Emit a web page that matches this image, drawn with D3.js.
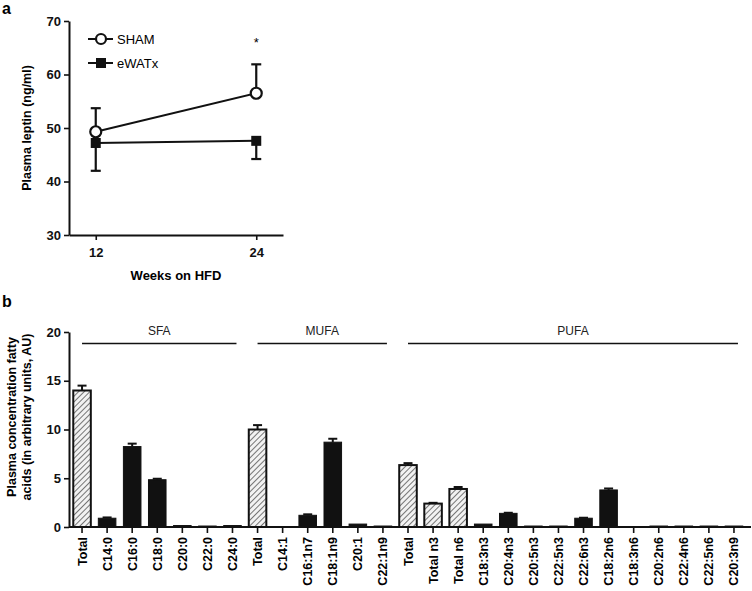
<!DOCTYPE html>
<html>
<head>
<meta charset="utf-8">
<script src="https://cdn.jsdelivr.net/npm/d3@7"></script>
<style>
    body { margin: 0; background: #fff; }
    svg { display: block; font-family: "Liberation Sans", Arial, sans-serif; }
</style>
</head>
<body>
<svg id="chart"></svg>
<script>
// Panel a: leptin
const weeks = [12, 24]
const shamMean = [49.3, 56.5]
const shamErr = [4.4, 5.4]
const ewatMean = [47.2, 47.6]
const ewatErr = [5.2, 3.4]

// Panel b: fatty acids
const faNames = ['Total', 'C14:0', 'C16:0', 'C18:0', 'C20:0', 'C22:0', 'C24:0',
    'Total', 'C14:1', 'C16:1n7', 'C18:1n9', 'C20:1', 'C22:1n9',
    'Total', 'Total n3', 'Total n6', 'C18:3n3', 'C20:4n3', 'C20:5n3', 'C22:5n3', 'C22:6n3',
    'C18:2n6', 'C18:3n6', 'C20:2n6', 'C22:4n6', 'C22:5n6', 'C20:3n9']
const faValues = [14.0, 0.9, 8.25, 4.85, 0.15, 0.1, 0.15,
    10.0, 0.05, 1.2, 8.7, 0.3, 0.1,
    6.35, 2.4, 3.9, 0.3, 1.4, 0.1, 0.1, 0.9,
    3.8, 0, 0.1, 0.1, 0.1, 0.1]
const faErr = [0.5, 0.08, 0.3, 0.1, 0.02, 0.02, 0.02,
    0.45, 0.02, 0.1, 0.35, 0.03, 0.02,
    0.2, 0.08, 0.2, 0.03, 0.06, 0.02, 0.02, 0.05,
    0.15, 0, 0.02, 0.02, 0.02, 0.02]
const faHatched = [true, false, false, false, false, false, false,
    true, false, false, false, false, false,
    true, true, true, false, false, false, false, false,
    false, false, false, false, false, false]
const groups = [
    {name: 'SFA', first: 0, last: 6},
    {name: 'MUFA', first: 7, last: 12},
    {name: 'PUFA', first: 13, last: 26}
]

const width = 752
const height = 591

const svg = d3.select('#chart')
    .attr('width', width)
    .attr('height', height)

const defs = svg.append('defs')
const pat = defs.append('pattern')
    .attr('id', 'hatch')
    .attr('patternUnits', 'userSpaceOnUse')
    .attr('width', 4)
    .attr('height', 4)
    .attr('patternTransform', 'rotate(45)')
pat.append('rect').attr('width', 4).attr('height', 4).attr('fill', '#f2f2f2')
pat.append('line')
    .attr('x1', 0).attr('y1', 0).attr('x2', 0).attr('y2', 4)
    .attr('stroke', '#555').attr('stroke-width', 1.6)

// ---------- panel a ----------
svg.append('text').text('a')
    .attr('x', 2).attr('y', 14)
    .style('font-size', '16px').style('font-weight', 'bold')

const xa = d3.scaleLinear().domain([10, 26]).range([69, 283])
const ya = d3.scaleLinear().domain([30, 70]).range([235, 21])

const ga = svg.append('g')

ga.append('g')
    .attr('transform', 'translate(69,0)')
    .call(d3.axisLeft(ya).tickValues([30, 40, 50, 60, 70]).tickSize(5).tickSizeOuter(0))
    .call(styleAxis)

ga.append('g')
    .attr('transform', 'translate(0,235)')
    .call(d3.axisBottom(xa).tickValues(weeks).tickSize(5).tickSizeOuter(0))
    .call(styleAxis)
    .call(g => g.selectAll('text').attr('dy', '1.1em'))

ga.append('text').text('Weeks on HFD')
    .attr('x', 176).attr('y', 280)
    .attr('text-anchor', 'middle')
    .style('font-size', '13px').style('font-weight', 'bold')

ga.append('text').text('Plasma leptin (ng/ml)')
    .attr('transform', 'translate(31,128) rotate(-90)')
    .attr('text-anchor', 'middle')
    .style('font-size', '12.5px').style('font-weight', 'bold')

const line = d3.line().x((d, i) => xa(weeks[i])).y(d => ya(d))

// error bars: SHAM goes up, eWATx goes down
function errBar(g, means, errs, dir) {
    means.forEach((m, i) => {
        const x = xa(weeks[i])
        const yEnd = ya(m + dir * errs[i])
        g.append('line')
            .attr('x1', x).attr('x2', x)
            .attr('y1', ya(m)).attr('y2', yEnd)
            .attr('stroke', '#111').attr('stroke-width', 2.2)
        g.append('line')
            .attr('x1', x - 5).attr('x2', x + 5)
            .attr('y1', yEnd).attr('y2', yEnd)
            .attr('stroke', '#111').attr('stroke-width', 2.2)
    })
}
errBar(ga, shamMean, shamErr, 1)
errBar(ga, ewatMean, ewatErr, -1)

ga.append('path').datum(ewatMean)
    .attr('d', line).attr('fill', 'none')
    .attr('stroke', '#111').attr('stroke-width', 2)
ga.append('path').datum(shamMean)
    .attr('d', line).attr('fill', 'none')
    .attr('stroke', '#111').attr('stroke-width', 2)

ga.selectAll('.sq').data(ewatMean).join('rect')
    .attr('x', (d, i) => xa(weeks[i]) - 5)
    .attr('y', d => ya(d) - 5)
    .attr('width', 10).attr('height', 10)
    .attr('fill', '#111')
ga.selectAll('.circ').data(shamMean).join('circle')
    .attr('cx', (d, i) => xa(weeks[i]))
    .attr('cy', d => ya(d))
    .attr('r', 5.5)
    .attr('fill', '#fff').attr('stroke', '#111').attr('stroke-width', 2.2)

ga.append('text').text('*')
    .attr('x', xa(24)).attr('y', ya(65.2))
    .attr('text-anchor', 'middle')
    .style('font-size', '13px')

// legend
const leg = ga.append('g')
leg.append('line').attr('x1', 88).attr('x2', 113).attr('y1', 39).attr('y2', 39)
    .attr('stroke', '#111').attr('stroke-width', 2)
leg.append('circle').attr('cx', 101).attr('cy', 39).attr('r', 5)
    .attr('fill', '#fff').attr('stroke', '#111').attr('stroke-width', 2.2)
leg.append('text').text('SHAM').attr('x', 117).attr('y', 44)
    .style('font-size', '13px')
leg.append('line').attr('x1', 88).attr('x2', 113).attr('y1', 63).attr('y2', 63)
    .attr('stroke', '#111').attr('stroke-width', 2)
leg.append('rect').attr('x', 96).attr('y', 58).attr('width', 10).attr('height', 10)
    .attr('fill', '#111')
leg.append('text').text('eWATx').attr('x', 117).attr('y', 68)
    .style('font-size', '13px')

// ---------- panel b ----------
svg.append('text').text('b')
    .attr('x', 2).attr('y', 307)
    .style('font-size', '16px').style('font-weight', 'bold')

const idx = faNames.map((d, i) => i)
const xb = d3.scaleBand().domain(idx).range([69.5, 746.5]).paddingInner(0.3).paddingOuter(0.15)
const yb = d3.scaleLinear().domain([0, 20]).range([527, 332])

const gb = svg.append('g')

gb.append('g')
    .attr('transform', 'translate(69,0)')
    .call(d3.axisLeft(yb).tickValues([0, 5, 10, 15, 20]).tickSize(5).tickSizeOuter(0))
    .call(styleAxis)

// bars
gb.selectAll('.bar').data(faValues).join('rect')
    .attr('x', (d, i) => xb(i))
    .attr('y', d => yb(d))
    .attr('width', xb.bandwidth())
    .attr('height', d => yb(0) - yb(d))
    .attr('fill', (d, i) => faHatched[i] ? 'url(#hatch)' : '#111')
    .attr('stroke', '#111')
    .attr('stroke-width', (d, i) => faHatched[i] ? 2 : 1)

// error bars
faValues.forEach((v, i) => {
    if (faErr[i] <= 0.04) return
    const cx = xb(i) + xb.bandwidth() / 2
    const yTop = yb(v + faErr[i])
    gb.append('line')
        .attr('x1', cx).attr('x2', cx)
        .attr('y1', yb(v)).attr('y2', yTop)
        .attr('stroke', '#111').attr('stroke-width', 2)
    gb.append('line')
        .attr('x1', cx - 4.5).attr('x2', cx + 4.5)
        .attr('y1', yTop).attr('y2', yTop)
        .attr('stroke', '#111').attr('stroke-width', 2)
})

// x axis
const xAxisB = gb.append('g')
    .attr('transform', 'translate(0,527)')
xAxisB.append('line')
    .attr('x1', 69).attr('x2', 751)
    .attr('stroke', '#111').attr('stroke-width', 2)
xAxisB.selectAll('.tk').data(idx).join('line')
    .attr('x1', i => xb(i) + xb.bandwidth() / 2)
    .attr('x2', i => xb(i) + xb.bandwidth() / 2)
    .attr('y1', 0).attr('y2', 6)
    .attr('stroke', '#111').attr('stroke-width', 1.6)
xAxisB.selectAll('.lbl').data(idx).join('text')
    .text(i => faNames[i])
    .attr('transform', i => `translate(${xb(i) + xb.bandwidth() / 2 + 4.5},10) rotate(-90)`)
    .attr('text-anchor', 'end')
    .style('font-size', '12.5px').style('font-weight', 'bold')

// group labels
groups.forEach(gr => {
    const x1 = xb(gr.first) + xb.bandwidth() / 2
    const x2 = xb(gr.last) + xb.bandwidth() / 2 + 4
    gb.append('line')
        .attr('x1', x1).attr('x2', x2)
        .attr('y1', 343.5).attr('y2', 343.5)
        .attr('stroke', '#111').attr('stroke-width', 1.6)
    gb.append('text').text(gr.name)
        .attr('x', (x1 + x2) / 2).attr('y', 335)
        .attr('text-anchor', 'middle')
        .style('font-size', '12px')
        .attr('fill', '#222')
})

gb.append('text')
    .attr('transform', 'translate(16,417) rotate(-90)')
    .attr('text-anchor', 'middle')
    .style('font-size', '12.5px').style('font-weight', 'bold')
    .selectAll('tspan')
    .data(['Plasma concentration fatty', 'acids (in arbitrary units, AU)'])
    .join('tspan')
    .attr('x', 0)
    .attr('dy', (d, i) => i === 0 ? 0 : 15)
    .text(d => d)

function styleAxis(g) {
    g.select('.domain').attr('stroke', '#111').attr('stroke-width', 2)
    g.selectAll('.tick line').attr('stroke', '#111').attr('stroke-width', 1.6)
    g.selectAll('.tick text')
        .style('font-size', '13px')
        .style('font-weight', 'bold')
        .style('font-family', '"Liberation Sans", Arial, sans-serif')
        .attr('fill', '#111')
}
</script>
</body>
</html>
